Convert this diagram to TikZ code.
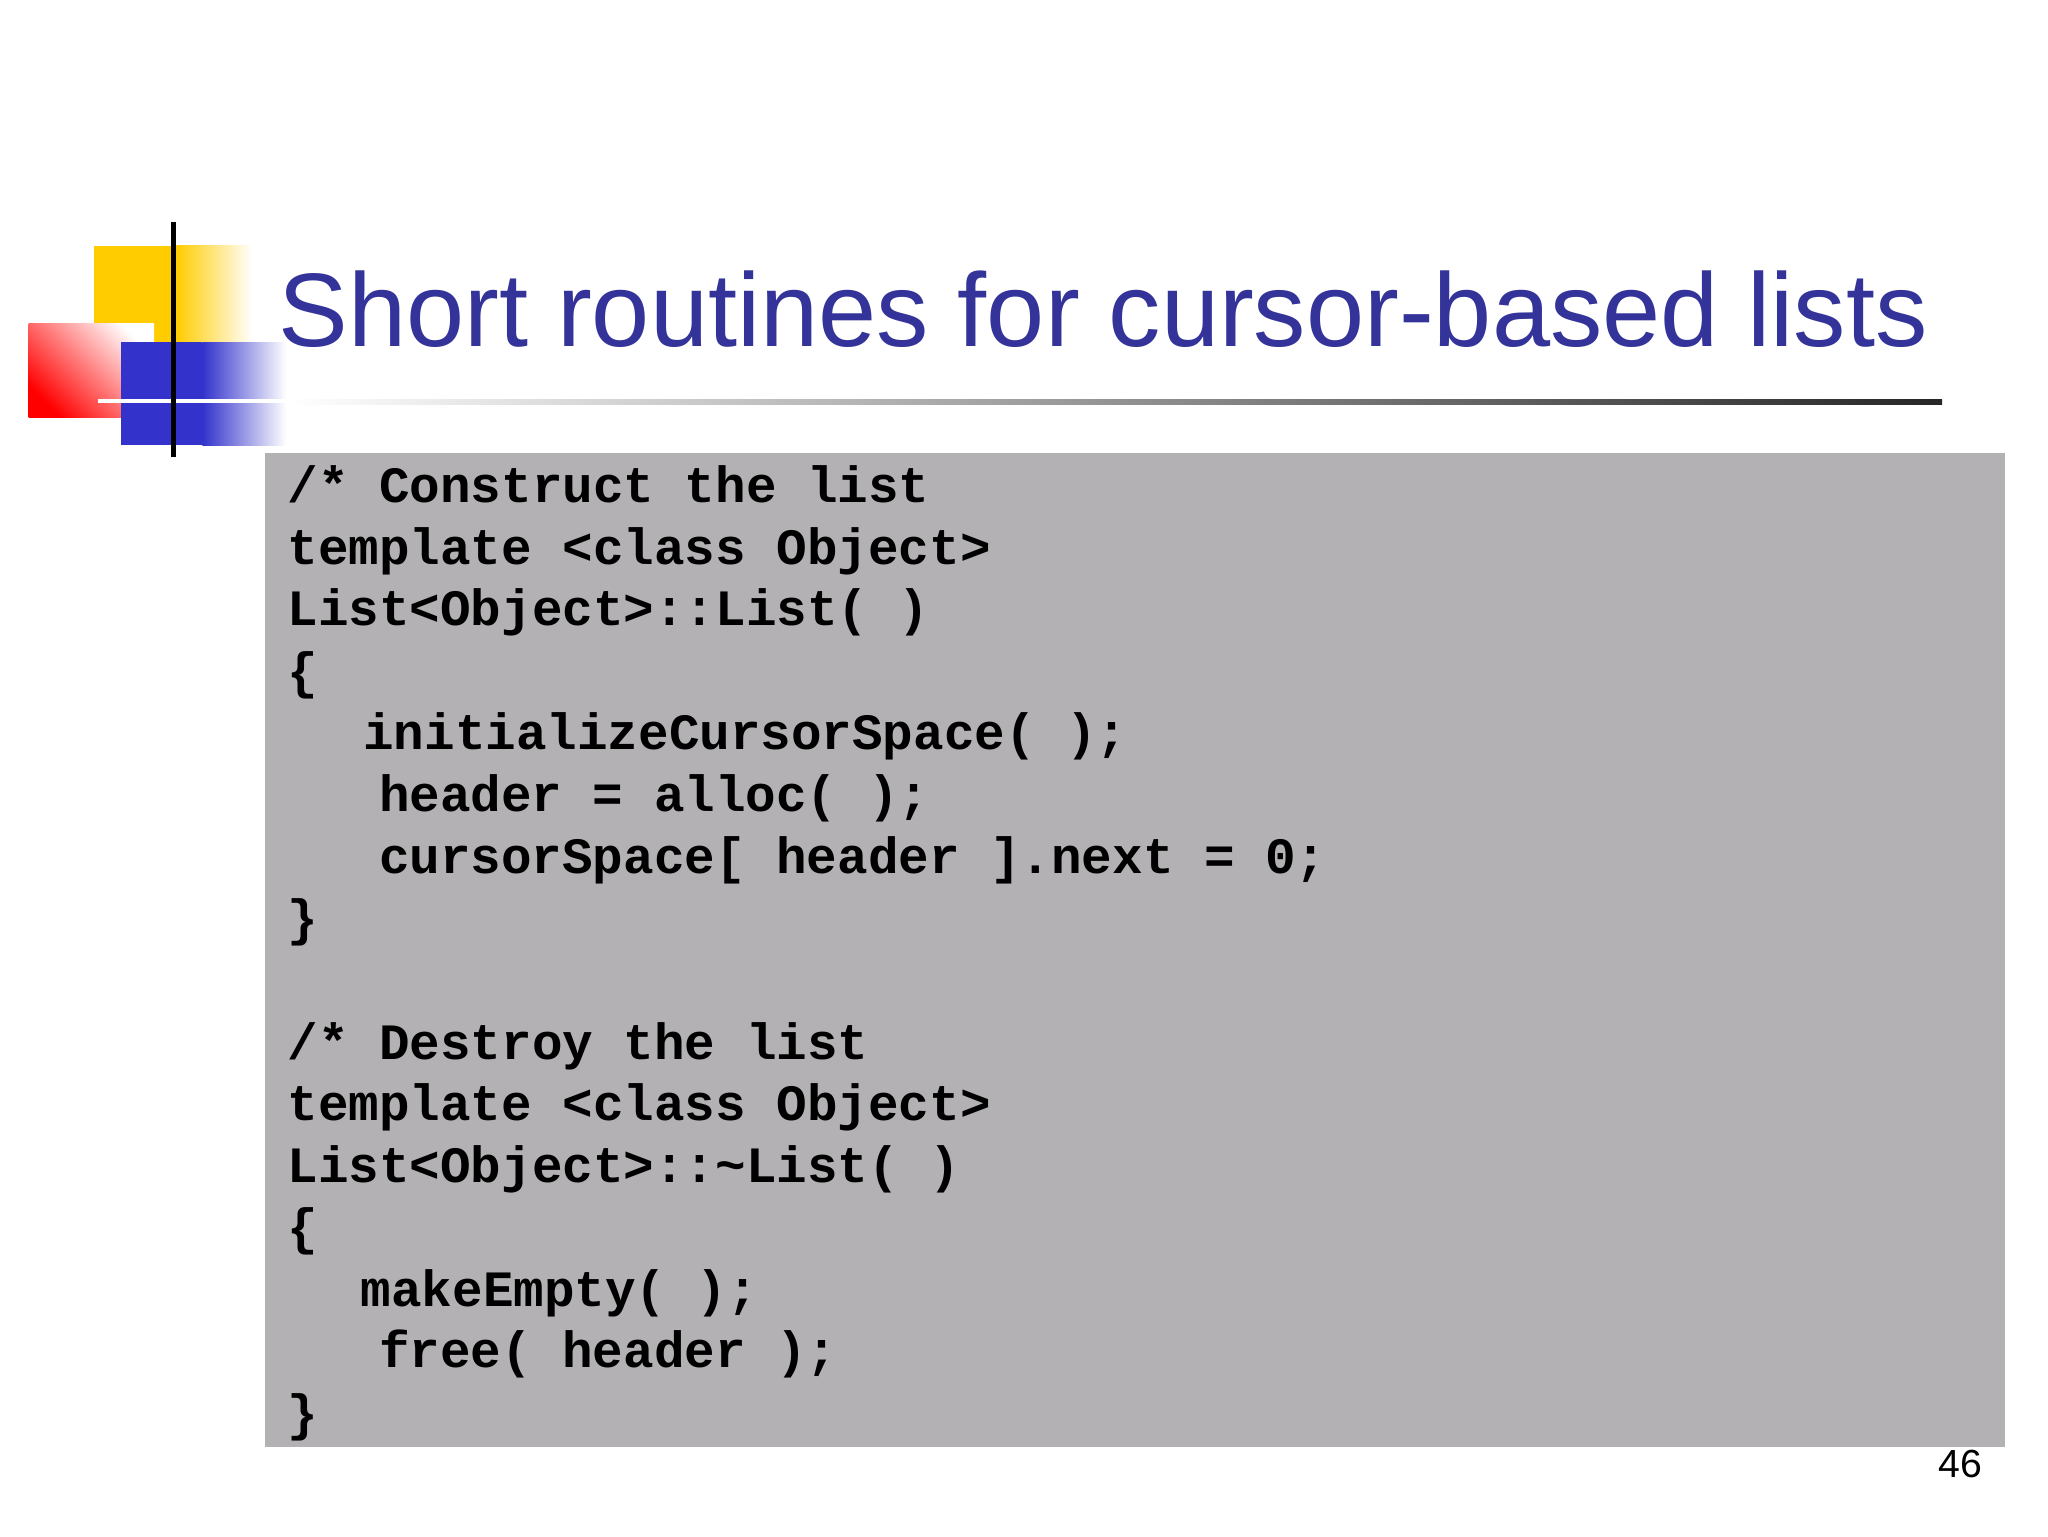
\documentclass[tikz,border=0pt]{standalone}
\usepackage{fontspec}
\setmainfont{Liberation Sans}
\newfontfamily\codefont{Liberation Mono}
\definecolor{titleblue}{RGB}{51,51,153}
\definecolor{codegray}{RGB}{179,177,180}
\definecolor{sqyellow}{RGB}{255,204,0}
\definecolor{sqred}{RGB}{255,0,0}
\definecolor{sqblue}{RGB}{51,51,204}
\begin{document}
\begin{tikzpicture}[x=1pt,y=-1pt,
  code/.style={anchor=base west,inner sep=0pt,font=\codefont\bfseries\fontsize{39}{47}\selectfont}]
\useasboundingbox (0,0) rectangle (1568,1176);
\fill[white] (0,0) rectangle (1568,1176);
% logo
\fill[sqyellow] (72,188) rectangle (135,310);
\shade[left color=sqyellow,right color=white] (135,188) rectangle (193,310);
\shade[left color=sqred,right color=white,shading angle=135] (22,248) rectangle (118,320);
\fill[sqblue] (93,262) rectangle (155,341);
\shade[left color=sqblue,right color=white] (155,262) rectangle (219,341);
\draw[white,line width=3pt] (75,307) -- (220,307);
\draw[black,line width=4pt] (133,170) -- (133,350);
% title rule
\shade[left color=white,right color=black!85] (220,306) rectangle (1487,310);
\node[anchor=base west,inner sep=0pt,text=titleblue,font=\fontsize{80}{90}\selectfont] (title) at (213,265) {Short routines for cursor-based lists};
% code box
\fill[codegray] (203,347) rectangle (1535,1108);
\node[code] (l1) at (220,385) {/* Construct the list};
\node[code] (l2) at (220,432) {template <class Object>};
\node[code] (l3) at (220,479) {List<Object>::List( )};
\node[code] (l4) at (220,527) {\{};
\node[code] (l5) at (278,574) {initializeCursorSpace( );};
\node[code] (l6) at (290,621) {header = alloc( );};
\node[code] (l7) at (290,669) {cursorSpace[ header ].next = 0;};
\node[code] (l8) at (220,716) {\}};
\node[code] (l10) at (220,811) {/* Destroy the list};
\node[code] (l11) at (220,858) {template <class Object>};
\node[code] (l12) at (220,905) {List<Object>::\char`\~List( )};
\node[code] (l13) at (220,953) {\{};
\node[code] (l14) at (276,1000) {makeEmpty( );};
\node[code] (l15) at (290,1047) {free( header );};
\node[code] (l16) at (220,1095) {\}};
\node[anchor=base east,inner sep=0pt,font=\fontsize{30}{34}\selectfont] (pg) at (1518,1131) {46};
\end{tikzpicture}
\end{document}
